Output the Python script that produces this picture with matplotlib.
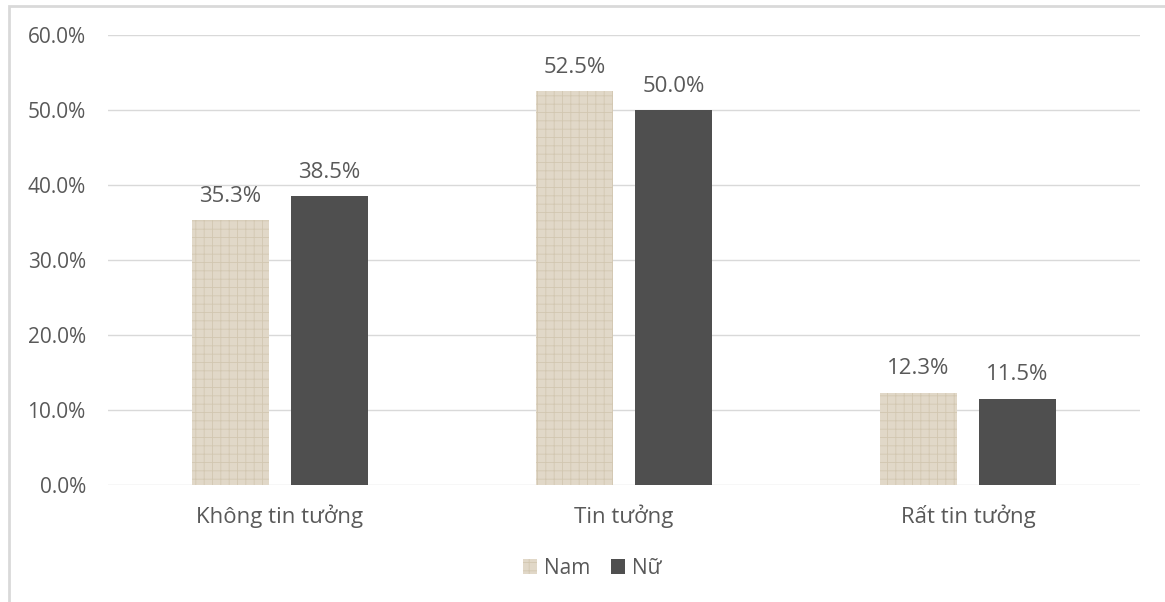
import numpy as np
import matplotlib.pyplot as plt
from matplotlib.patches import Rectangle

categorias = ["Không tin tưởng", "Tin tưởng", "Rất tin tưởng"]
nam = [35.3, 52.5, 12.3]
nu = [38.5, 50.0, 11.5]
series = ["Nam", "Nữ"]
yticks = [0, 10, 20, 30, 40, 50, 60]

plt.rcParams['font.family'] = ['Open Sans', 'DejaVu Sans']
plt.rcParams['hatch.linewidth'] = 0.6
color_texto = '#595959'

fig = plt.figure(figsize=(11.65, 6.02), dpi=100)
ax = fig.add_axes([108/1165, 1 - 485/602, 1032/1165, 450/602])

x = np.arange(len(categorias))
ancho = 0.224
desp = 0.144

b1 = ax.bar(x - desp, nam, ancho, color='#E1D8C8', edgecolor='#D2C7B1',
            hatch='++', linewidth=0, label=series[0], zorder=2)
b2 = ax.bar(x + desp, nu, ancho, color='#4F4F4F', linewidth=0,
            label=series[1], zorder=2)

for barras, vals in [(b1, nam), (b2, nu)]:
    for b, v in zip(barras, vals):
        ax.text(b.get_x() + b.get_width() / 2, v + 1.8, f"{v:.1f}%",
                ha='center', va='bottom', fontsize=16, color=color_texto)

ax.set_xlim(-0.5, 2.5)
ax.set_ylim(0, 60)
ax.set_yticks(yticks)
ax.set_yticklabels([f"{t:.1f}%" for t in yticks])
ax.set_xticks(x)
ax.set_xticklabels(categorias)
ax.tick_params(axis='both', length=0, colors=color_texto)
ax.tick_params(axis='y', pad=16, labelsize=15)
ax.tick_params(axis='x', pad=14, labelsize=16)
ax.grid(axis='y', color='#D9D9D9', linewidth=1, zorder=0)
for s in ax.spines.values():
    s.set_visible(False)

leg = fig.legend(handles=[b1, b2], labels=series, loc='center',
                 bbox_to_anchor=(592/1165, 1 - 568/602), ncol=2, frameon=False,
                 fontsize=15, handlelength=0.7, handleheight=0.7,
                 handletextpad=0.3, columnspacing=1.0)
for t in leg.get_texts():
    t.set_color(color_texto)

# borde del grafico
fig.add_artist(Rectangle((9/1165, -0.01), 1.2, 1 - 6/602 + 0.01,
                         transform=fig.transFigure, fill=False,
                         edgecolor='#D9D9D9', linewidth=2))

fig.savefig('out.png', dpi=100)
